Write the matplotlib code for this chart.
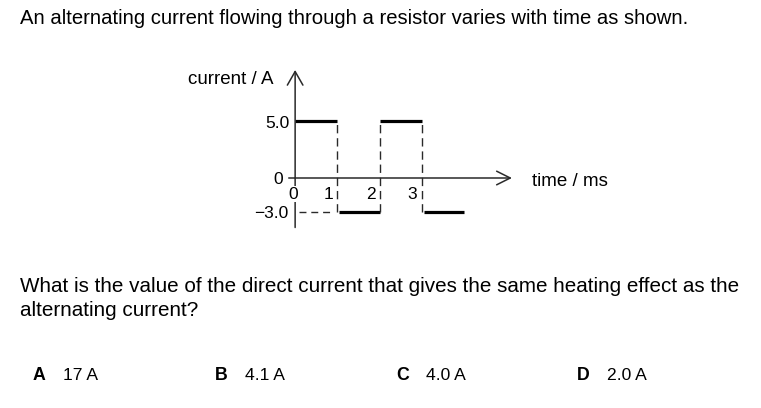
import matplotlib.pyplot as plt

plt.rcParams['font.family'] = ['Liberation Sans', 'DejaVu Sans']

# waveform: current level between successive time edges
edges = [0, 1, 2, 3, 4]          # time / ms
levels = [5.0, -3.0, 5.0, -3.0]  # current / A
xticks = [0, 1, 2, 3]
yticks = [5.0, 0, -3.0]
ytick_labels = ['5.0', '0', '\u22123.0']

options = ['A', 'B', 'C', 'D']
answers = ['17 A', '4.1 A', '4.0 A', '2.0 A']

W, H = 761, 408
fig = plt.figure(figsize=(W / 100, H / 100), dpi=100)


def fx(px):
    return px / W


def fy(py):
    return 1 - py / H


fig.text(fx(20), fy(18), 'An alternating current flowing through a resistor varies with time as shown.',
         fontsize=14.6, va='center', ha='left')
fig.text(fx(20), fy(286), 'What is the value of the direct current that gives the same heating effect as the',
         fontsize=14.9, va='center', ha='left')
fig.text(fx(20), fy(311), 'alternating current?', fontsize=14.9, va='center', ha='left')

opt_x = [33, 215, 396, 577]
for ox, o, a in zip(opt_x, options, answers):
    fig.text(fx(ox), fy(375), o, fontsize=12.8, fontweight='bold', va='center', ha='left')
    fig.text(fx(ox + 30), fy(375), a, fontsize=12.6, va='center', ha='left')

# axes placed so that 1 ms ~ 42.3 px and 1 A ~ 11.3 px
ax = fig.add_axes([274 / W, 1 - 234.5 / H, (527.6 - 274) / W, (234.5 - 65) / H])
ax.set_xlim(-0.5, 5.5)
ax.set_ylim(-5, 10)
ax.axis('off')

ink = '#2a2a2a'

# axes with open arrow heads
ax.annotate('', xy=(5.13, 0), xytext=(0, 0),
            arrowprops=dict(arrowstyle='->, head_length=0.7, head_width=0.35', lw=1.1,
                            color=ink, mutation_scale=14, shrinkA=0, shrinkB=0))
ax.annotate('', xy=(0, 9.56), xytext=(0, -4.38),
            arrowprops=dict(arrowstyle='->, head_length=0.7, head_width=0.4', lw=1.1,
                            color=ink, mutation_scale=14, shrinkA=0, shrinkB=0))

# small tick mark at zero on the y axis
ax.plot([-0.14, 0], [0, 0], color=ink, lw=1.1)

# thick level segments
for i, lv in enumerate(levels):
    x0 = edges[i]
    x1 = edges[i + 1]
    if lv < 0:
        x0 += 0.04
    ax.hlines(lv, x0, x1, color='black', lw=2.3)

# dashed transitions
for t in edges[1:-1]:
    ax.vlines(t, min(levels), max(levels), color=ink, lw=1.0, linestyles=(0, (6, 3.5)))
ax.hlines(-3.0, 0.09, 0.87, color=ink, lw=1.0, linestyles=(0, (5, 3.5)))

# tick labels
ylab_pos = [(-0.14, 4.78), (-0.28, -0.09), (-0.17, -3.1)]
for (lx, ly), lab in zip(ylab_pos, ytick_labels):
    ax.text(lx, ly, lab, ha='right', va='center', fontsize=12.5)
xlab_off = [-0.05, -0.20, -0.20, -0.24]
for xv, off in zip(xticks, xlab_off):
    t = ax.text(xv + off, -1.42, str(xv), ha='center', va='center', fontsize=12.5, zorder=5)
    if xv == 0:
        t.set_bbox(dict(facecolor='white', edgecolor='none', pad=0.5))

fig.text(fx(188), fy(80), 'current / A', fontsize=13.5, ha='left', va='center')
fig.text(fx(532), fy(182), 'time / ms', fontsize=13.5, ha='left', va='center')

fig.savefig('out.png', dpi=100)
